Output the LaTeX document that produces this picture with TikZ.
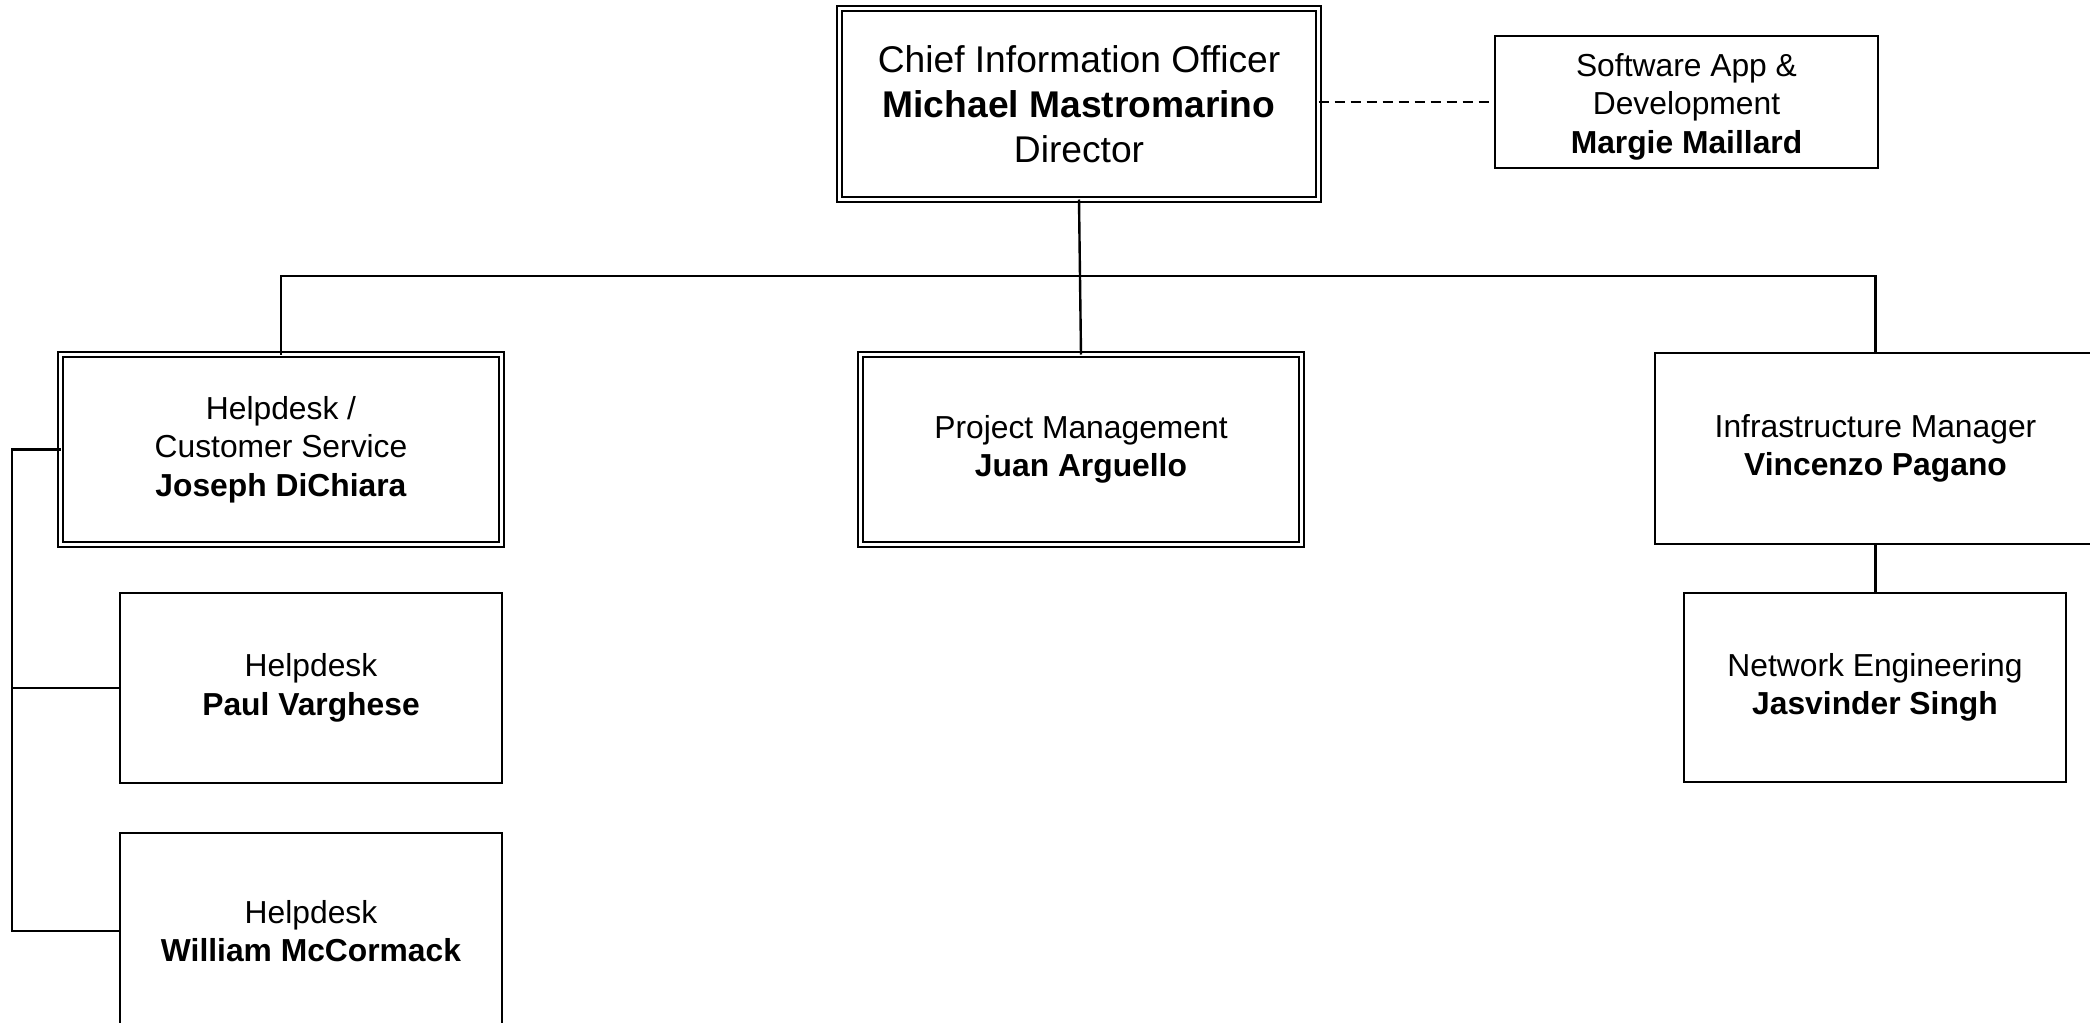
\documentclass[tikz,border=0pt]{standalone}
\usepackage{fontspec}
\setmainfont{Liberation Sans}
\begin{document}
\begin{tikzpicture}[x=0.5pt,y=-0.5pt,
  box/.style={draw, line width=1.3pt, inner sep=0pt, outer sep=0pt, align=center,
    font=\fontsize{15.9}{19.3}\selectfont},
  dbox/.style={draw, line width=1pt, double, double distance=1.5pt, inner sep=0pt, outer sep=0pt, align=center,
    font=\fontsize{15.9}{19.3}\selectfont},
  link/.style={line width=1.2pt},
  dlink/.style={line width=1.2pt, dash pattern=on 5pt off 3pt}]
\useasboundingbox (0,0) rectangle (2090,1023);
\node[dbox, minimum width=239.5pt, minimum height=95.5pt, font=\fontsize{18.6}{22.5}\selectfont] (cio) at (1079,104)
  {Chief Information Officer\\\textbf{Michael Mastromarino}\\Director};
\node[box, minimum width=191.5pt, minimum height=66pt] (margie) at (1686.5,102)
  {\rule{0pt}{16pt}Software App \&\\Development\\\textbf{Margie Maillard}};
\node[dbox, minimum width=220.5pt, minimum height=95pt] (joseph) at (281,449.5)
  {Helpdesk /\\Customer Service\\\textbf{Joseph DiChiara}};
\node[dbox, minimum width=220.5pt, minimum height=95pt] (juan) at (1081,449.5)
  {Project Management\\\textbf{Juan Arguello}};
\node[box, minimum width=220.5pt, minimum height=95.5pt] (vincenzo) at (1875.5,448.5)
  {Infrastructure Manager\\\textbf{Vincenzo Pagano}};
\node[box, minimum width=191pt, minimum height=94.5pt] (jasvinder) at (1875,687.5)
  {Network Engineering\\\textbf{Jasvinder Singh}};
\node[box, minimum width=191pt, minimum height=95pt] (paul) at (311,688)
  {Helpdesk\\\textbf{Paul Varghese}};
\node[box, minimum width=191pt, minimum height=98pt] (william) at (311,931)
  {Helpdesk\\\textbf{William McCormack}};
\coordinate (bus) at (1078,276);
\coordinate (lx) at (12,0);
\draw[link] (cio.south) -- (juan.north);
\draw[link] (joseph.north) |- (bus) -| (vincenzo.north);
\draw[dlink] (margie.west -| cio.east) -- (margie.west);
\draw[link] (vincenzo.south) -- (vincenzo.south |- jasvinder.north);
\draw[link] (joseph.west) -- (joseph.west -| lx) |- (william.west);
\draw[link] (paul.west) -- (paul.west -| lx);
\end{tikzpicture}
\end{document}
